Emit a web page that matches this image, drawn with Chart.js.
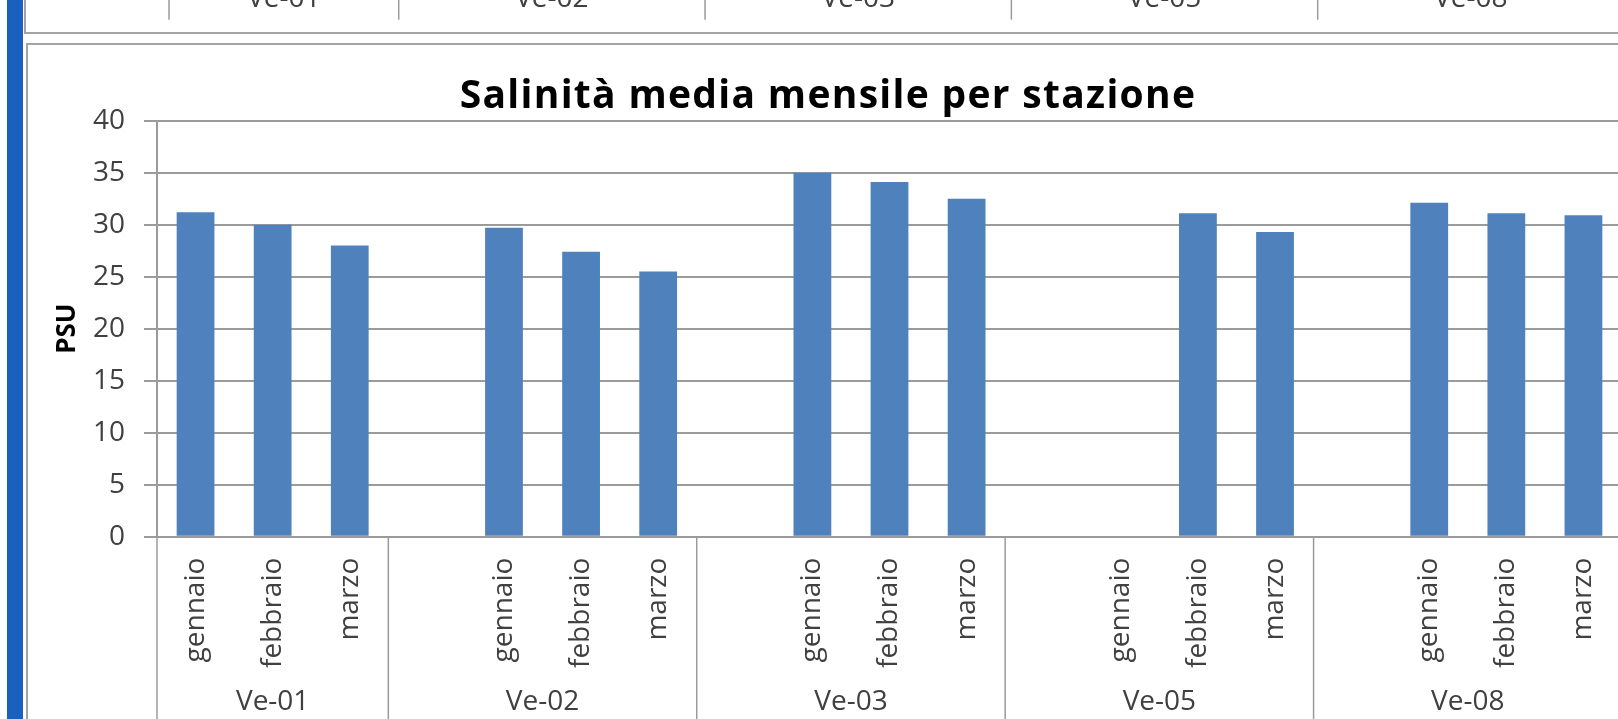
<!DOCTYPE html>
<html lang="it">
  <head>
    <meta charset="UTF-8" />
    <title>Salinità media mensile per stazione</title>
    <script src="https://cdn.jsdelivr.net/npm/chart.js@4.4.1/dist/chart.umd.min.js"></script>
    <style>
      html, body { margin: 0; padding: 0; width: 1618px; height: 719px; overflow: hidden; background: #fff; }
      #stripe { position: absolute; left: 7px; top: 0; width: 16px; height: 719px; background: #1b5fbf; }
      .box { position: absolute; background: #fff; border: 2px solid #a3a3a3; }
      #prevBox { left: 24px; top: -660px; }
      #mainBox { left: 26px; top: 43px; }
      canvas { display: block; }
    </style>
  </head>
  <body>
    <div id="stripe"></div>
    <!-- bottom edge of the previous chart in the document -->
    <div id="prevBox" class="box"><canvas id="prevChart" width="1629" height="690"></canvas></div>
    <div id="mainBox" class="box"><canvas id="myChart" width="1629" height="690"></canvas></div>
    <script>
      /*** data ***/
      const chartTitle = "Salinità media mensile per stazione";
      const monthLabels = [
        "gennaio", "febbraio", "marzo",
        "", "gennaio", "febbraio", "marzo",
        "", "gennaio", "febbraio", "marzo",
        "", "gennaio", "febbraio", "marzo",
        "", "gennaio", "febbraio", "marzo",
      ];
      const stationOf = [
        "Ve-01", "Ve-01", "Ve-01",
        "Ve-02", "Ve-02", "Ve-02", "Ve-02",
        "Ve-03", "Ve-03", "Ve-03", "Ve-03",
        "Ve-05", "Ve-05", "Ve-05", "Ve-05",
        "Ve-08", "Ve-08", "Ve-08", "Ve-08",
      ];
      // PSU
      const salinity = [
        31.2, 30.0, 28.0,
        null, 29.7, 27.4, 25.5,
        null, 35.0, 34.1, 32.5,
        null, null, 31.1, 29.3,
        null, 32.1, 31.1, 30.9,
      ];
      const yMin = 0, yMax = 40, yStep = 5;

      const GRID = "#9b9b9b";
      const TEXT = "#404040";
      const FONT = "'Open Sans', 'DejaVu Sans', sans-serif";

      // title drawn by hand so the letter spacing can be widened
      const wideTitle = {
        id: "wideTitle",
        afterDraw(chart, args, opts) {
          const ctx = chart.ctx;
          ctx.save();
          ctx.font = "bold 39px " + FONT;
          ctx.letterSpacing = "1.3px";
          ctx.fillStyle = "#000";
          ctx.textAlign = "center";
          ctx.textBaseline = "alphabetic";
          ctx.fillText(opts.text, opts.center, opts.baseline);
          ctx.restore();
        },
      };

      // second level of the category axis: station groups with separators
      const stationAxis = {
        id: "stationAxis",
        afterDraw(chart, args, opts) {
          const x = chart.scales.x;
          const bottom = chart.chartArea.bottom;
          const half = (x.getPixelForValue(1) - x.getPixelForValue(0)) / 2;
          const ctx = chart.ctx;
          ctx.save();
          ctx.strokeStyle = GRID;
          ctx.lineWidth = 1.5;
          ctx.fillStyle = TEXT;
          ctx.font = "28px " + FONT;
          ctx.textAlign = "center";
          ctx.textBaseline = "alphabetic";
          let start = 0;
          for (let i = 1; i <= stationOf.length; i++) {
            if (i === stationOf.length || stationOf[i] !== stationOf[start]) {
              const x0 = x.getPixelForValue(start) - half;
              const x1 = x.getPixelForValue(i - 1) + half;
              ctx.beginPath();
              ctx.moveTo(x0, bottom);
              ctx.lineTo(x0, bottom + opts.lineLength);
              ctx.stroke();
              ctx.fillText(stationOf[start], (x0 + x1) / 2, bottom + opts.labelOffset);
              start = i;
            }
          }
          ctx.restore();
        },
      };

      function buildChart(id, values, yWidth, padRight) {
        const canvas = document.getElementById(id);
        return new Chart(canvas.getContext("2d"), {
          type: "bar",
          data: {
            labels: monthLabels,
            datasets: [
              {
                label: "Salinità",
                data: values,
                backgroundColor: "#4f81bd",
                barPercentage: 0.49,
                categoryPercentage: 1,
              },
            ],
          },
          options: {
            responsive: false,
            animation: false,
            layout: { padding: { left: 0, right: padRight, top: 75.7, bottom: 0 } },
            plugins: {
              legend: { display: false },
              tooltip: { enabled: false },
              title: { display: false },
              wideTitle: { text: chartTitle, center: 800, baseline: 63 },
              stationAxis: { lineLength: 186, labelOffset: 173 },
            },
            scales: {
              x: {
                grid: { display: false, drawTicks: false },
                border: { display: false },
                ticks: {
                  autoSkip: false,
                  minRotation: 90,
                  maxRotation: 90,
                  padding: 21,
                  color: TEXT,
                  font: { family: FONT, size: 28 },
                },
                afterFit: (s) => { s.height = 690 - 491.7; },
              },
              y: {
                min: yMin,
                max: yMax,
                ticks: {
                  stepSize: yStep,
                  padding: 19,
                  color: TEXT,
                  font: { family: FONT, size: 28 },
                },
                grid: { color: GRID, lineWidth: 2, tickLength: 13 },
                border: { display: true, color: GRID, width: 2 },
                title: {
                  display: true,
                  text: "PSU",
                  color: "#000",
                  font: { family: FONT, size: 26, weight: "bold" },
                  padding: { top: 24, bottom: 0 },
                },
                afterFit: (s) => { s.width = yWidth; },
              },
            },
          },
          plugins: [wideTitle, stationAxis],
        });
      }

      const chart = buildChart("myChart", salinity, 129, 35);
      // only the station row of the chart above is visible
      const prevChart = buildChart("prevChart", [], 143, 31);
    </script>
  </body>
</html>
